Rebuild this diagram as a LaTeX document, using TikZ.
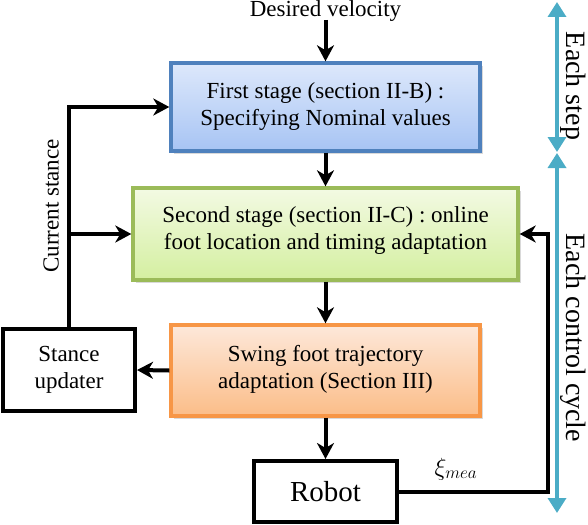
\documentclass[tikz,border=0pt]{standalone}
\usepackage{fontspec}
\setmainfont{Liberation Serif}
\usetikzlibrary{arrows.meta,shadows,positioning}
\definecolor{bbord}{HTML}{4F81BD}
\definecolor{btop}{HTML}{DDE8FB}
\definecolor{bbot}{HTML}{A7C4F4}
\definecolor{gbord}{HTML}{9BBB59}
\definecolor{gtop}{HTML}{F3FAE3}
\definecolor{gbot}{HTML}{D4EFA0}
\definecolor{obord}{HTML}{F79646}
\definecolor{otop}{HTML}{FDE8DA}
\definecolor{obot}{HTML}{FBBD88}
\definecolor{cyanline}{HTML}{4BACC6}
\tikzset{
  stagebox/.style={draw, line width=3.4pt, align=center, inner sep=0pt,
    drop shadow={shadow xshift=3pt, shadow yshift=-3pt, opacity=0.25, fill=black!60}},
  plainbox/.style={draw, line width=4pt, align=center, inner sep=0pt, fill=white},
  arr/.style={line width=4pt, -{Stealth[length=16pt,width=17pt,inset=5pt]}},
  cyanarr/.style={line width=3.4pt, draw=cyanline, {Triangle[length=15pt,width=18pt]}-{Triangle[length=15pt,width=18pt]}},
  txt/.style={font=\fontsize{23}{27}\selectfont},
}
\begin{document}
\begin{tikzpicture}[x=1pt,y=-1pt]
\useasboundingbox (0,0) rectangle (588,524);
% boxes
\node[stagebox, txt, draw=bbord, top color=btop, bottom color=bbot,
  minimum width=309pt, minimum height=88pt] (blue) at (325.5,107)
  {First stage (section II-B) :\\Specifying Nominal values};
\node[stagebox, txt, draw=gbord, top color=gtop, bottom color=gbot,
  minimum width=385pt, minimum height=92pt, text depth=12pt] (green) at (325.5,234)
  {Second stage (section II-C) : online\\foot location and timing adaptation};
\node[stagebox, txt, draw=obord, top color=otop, bottom color=obot,
  minimum width=309pt, minimum height=91pt, text depth=8pt] (orange) at (325.5,370.5)
  {Swing foot trajectory\\adaptation (Section III)};
\node[plainbox, txt, minimum width=132pt, minimum height=82pt] (stance) at (69,370)
  {Stance\\updater};
\node[plainbox, font=\fontsize{29}{33}\selectfont, minimum width=143pt, minimum height=61pt] (robot) at (325.5,491.5)
  {Robot};
% texts
\node[txt, anchor=base, inner sep=0pt] (dv) at (325.5,16.5) {Desired velocity};
\node[txt, rotate=90, inner sep=0pt] (cs) at (51,206) {Current stance};
\node[inner sep=0pt, font=\fontsize{25}{28}\selectfont] (xi) at (456,469) {$\xi_{mea}$};
\node[font=\fontsize{28}{32}\selectfont, rotate=-90, inner sep=0pt] (es) at (573.5,86) {Each step};
\node[font=\fontsize{28}{32}\selectfont, rotate=-90, inner sep=0pt] (ecc) at (573.5,338) {Each control cycle};
% coordinates
\coordinate (dvend) at (325.5,20);
\coordinate (fbk) at (548,0);
\coordinate (c1) at (557,2);
\coordinate (c2) at (557,152);
\coordinate (c3) at (557,153);
\coordinate (c4) at (557,513);
% connectors
\draw[arr] (dvend) -- (blue.north);
\draw[arr] (blue.south) -- (green.north);
\draw[arr] (green.south) -- (orange.north);
\draw[arr] (orange.south) -- (robot.north);
\draw[arr] (orange.west) -- (stance.east);
\draw[arr] (stance.north) |- (blue.west);
\draw[arr] (stance.north |- green.west) -- (green.west);
\draw[arr] (robot.east) -| (fbk |- green.east) -- (green.east);
\draw[cyanarr] (c1) -- (c2);
\draw[cyanarr] (c3) -- (c4);
\end{tikzpicture}
\end{document}
